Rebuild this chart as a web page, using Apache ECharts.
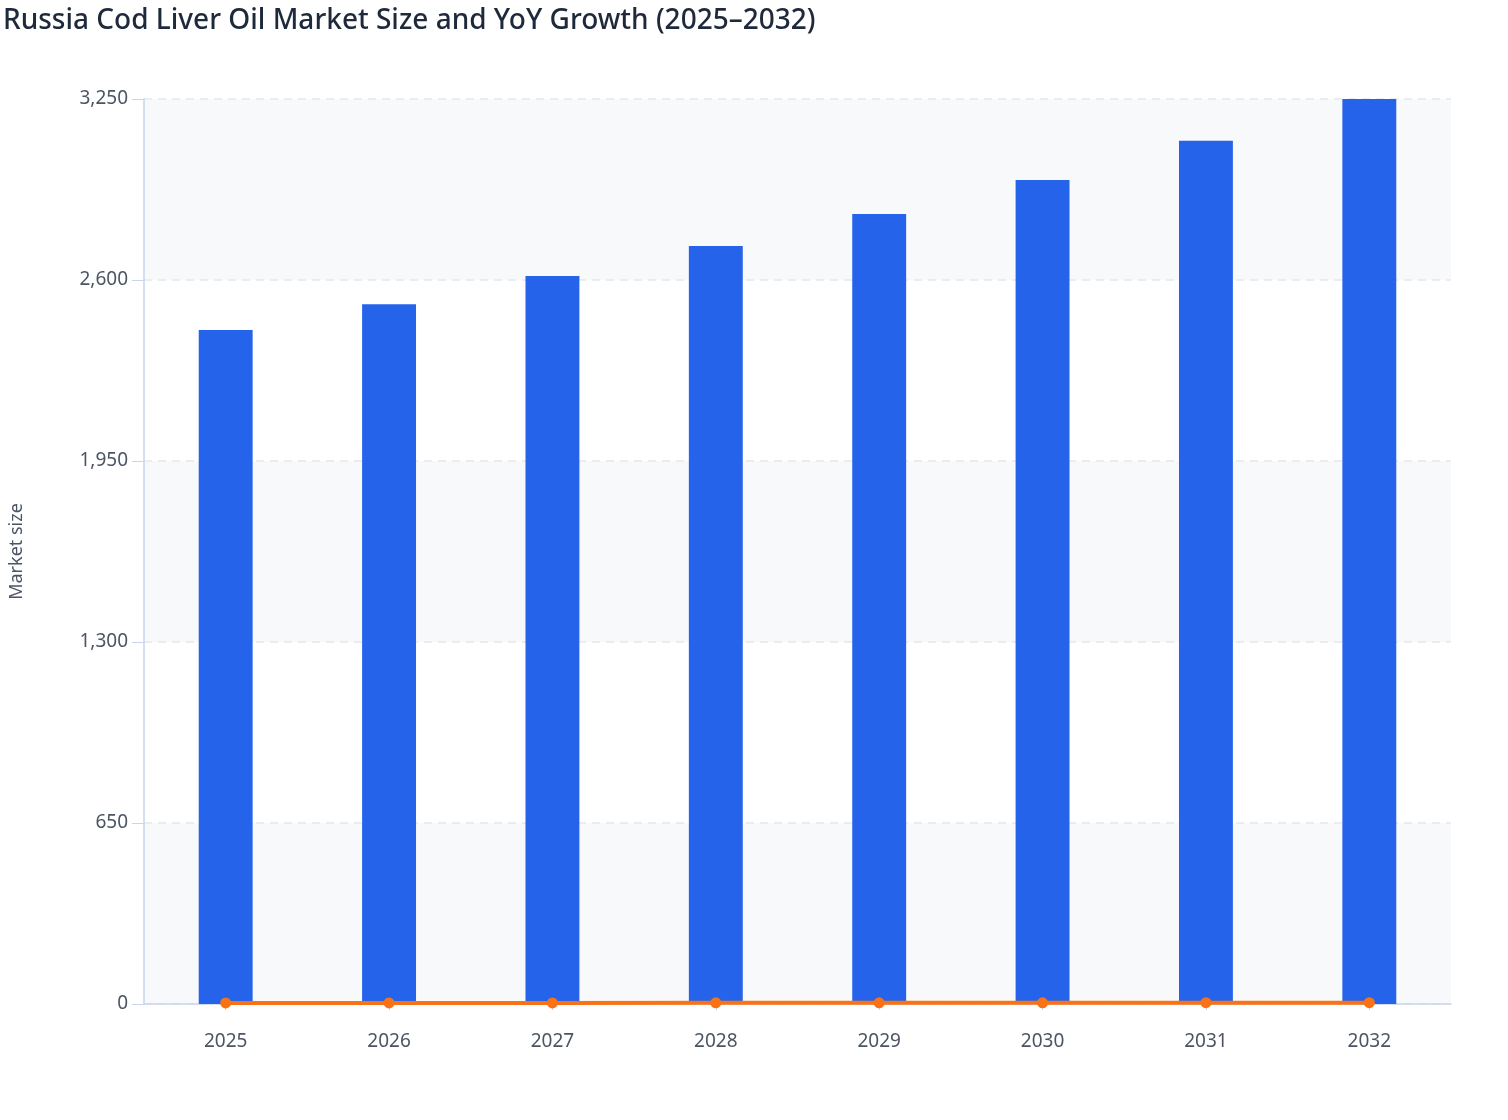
<!DOCTYPE html>
<html>
<head>
<meta charset="utf-8">
<script src="https://cdn.jsdelivr.net/npm/echarts@6/dist/echarts.min.js"></script>
<style>html,body{margin:0;padding:0;background:#fff}#c{width:1508px;height:1120px}</style>
</head>
<body>
<div id="c"></div>
<script>
const years = ['2025','2026','2027','2028','2029','2030','2031','2032'];
const marketSize = [2420, 2513, 2614, 2722, 2837, 2959, 3100, 3250];
const yoyGrowth = [3.7, 3.8, 4.0, 4.1, 4.2, 4.3, 4.8, 4.8];
const yTicks = [0, 650, 1300, 1950, 2600, 3250];

const chart = echarts.init(document.getElementById('c'));
chart.setOption({
  animation: false,
  title: {
    text: 'Russia Cod Liver Oil Market Size and YoY Growth (2025–2032)',
    left: -2, top: 2,
    textStyle: {fontFamily: 'Noto Sans', fontSize: 28, fontWeight: 500, color: '#1e293b'}
  },
  grid: {left: 144, right: 57, top: 99, bottom: 116},
  xAxis: {
    type: 'category', data: years,
    axisLine: {lineStyle: {color: '#c9d5ee', width: 1.5}},
    axisTick: {show: true, alignWithLabel: true, length: 6, lineStyle: {color: '#c9d5ee'}},
    axisLabel: {fontFamily: 'Noto Sans', fontSize: 19, color: '#4b5563', margin: 28}
  },
  yAxis: {
    type: 'value', min: yTicks[0], max: yTicks[yTicks.length-1], interval: 650,
    name: 'Market size', nameLocation: 'middle', nameGap: 118,
    nameTextStyle: {fontFamily: 'Noto Sans', fontSize: 18, color: '#4b5563'},
    axisLine: {show: true, lineStyle: {color: '#c9d5ee', width: 1.5}},
    axisTick: {show: true, length: 12, lineStyle: {color: '#c9d5ee'}},
    axisLabel: {fontFamily: 'Noto Sans', fontSize: 19, color: '#4b5563', margin: 16,
      formatter: v => v.toLocaleString('en-US')},
    splitLine: {lineStyle: {color: '#e5e7eb', type: [8, 6], width: 1.5}},
    splitArea: {show: true, areaStyle: {color: ['#f8f9fb', 'rgba(255,255,255,0)']}}
  },
  series: [
    {type: 'bar', data: marketSize, barWidth: '33%', itemStyle: {color: '#2563eb'}, z: 2},
    {type: 'line', data: yoyGrowth, symbol: 'circle', symbolSize: 11,
     lineStyle: {color: '#f97316', width: 4}, itemStyle: {color: '#f97316'}, z: 3}
  ]
});
</script>
</body>
</html>
